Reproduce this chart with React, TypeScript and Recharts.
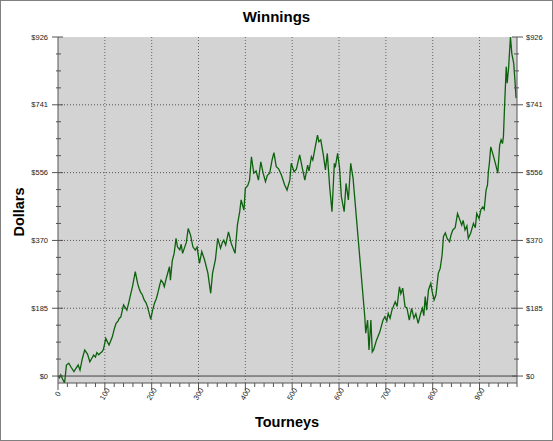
import { CartesianGrid, Line, LineChart, ReferenceLine, XAxis, YAxis } from 'recharts';

// points: tourney number -> cumulative winnings ($)
const tourneys = [
    0, 3, 6, 9, 14, 18, 23, 28, 34, 38, 43, 47, 52, 57, 63, 68, 72, 76, 80, 83, 87, 90, 94, 97, 102, 106, 109, 116, 120,
    124, 128, 131, 134, 140, 144, 147, 151, 154, 159, 165, 170, 173, 176, 180, 184, 188, 191, 195, 198, 202, 206, 210, 213,
    217, 220, 224, 227, 231, 234, 238, 240, 244, 248, 252, 255, 260, 263, 266, 270, 274, 278, 283, 288, 293, 297, 302, 307,
    313, 320, 326, 330, 336, 341, 347, 351, 354, 358, 364, 370, 378, 383, 388, 391, 397, 400, 405, 409, 413, 418, 423, 428,
    433, 438, 443, 447, 452, 457, 461, 466, 471, 477, 484, 489, 495, 498, 504, 509, 516, 521, 527, 533, 536, 541, 544, 548,
    554, 557, 561, 566, 571, 575, 580, 585, 590, 592, 597, 601, 605, 611, 615, 620, 625, 630, 655, 657, 661, 664, 668, 671,
    674, 680, 687, 694, 698, 702, 705, 709, 713, 720, 724, 729, 732, 736, 741, 745, 750, 755, 760, 764, 769, 774, 778, 781,
    784, 787, 791, 796, 799, 803, 807, 812, 816, 820, 823, 827, 831, 836, 839, 843, 848, 853, 857, 862, 865, 869, 873, 876,
    881, 887, 891, 894, 899, 903, 907, 910, 914, 917, 919, 921, 924, 929, 934, 939, 943, 946, 949, 951, 954, 957, 959, 962,
    966, 969, 973, 976, 978,
];
const winnings = [
    0, -5, 3, -6, -19, 30, 35, 24, 12, 20, 30, 16, 48, 71, 60, 39, 48, 57, 52, 64, 58, 62, 66, 73, 103, 92, 85, 107, 128,
    144, 150, 158, 161, 194, 186, 180, 200, 217, 244, 285, 253, 240, 230, 222, 208, 200, 189, 170, 155, 180, 199, 212, 226,
    248, 262, 255, 244, 266, 280, 299, 262, 315, 335, 376, 353, 345, 360, 335, 350, 365, 403, 385, 353, 344, 352, 308, 340,
    317, 281, 226, 281, 317, 376, 349, 365, 371, 358, 394, 362, 335, 412, 449, 481, 453, 513, 520, 535, 599, 554, 560, 535,
    585, 554, 531, 548, 554, 590, 610, 572, 566, 549, 522, 508, 535, 581, 558, 565, 604, 572, 535, 576, 560, 599, 590, 617,
    658, 640, 645, 608, 563, 608, 517, 449, 581, 570, 608, 570, 490, 449, 526, 481, 581, 540, 162, 117, 153, 71, 153, 66,
    72, 98, 120, 153, 162, 150, 171, 158, 180, 203, 190, 244, 225, 240, 189, 186, 153, 185, 158, 170, 144, 170, 185, 165,
    217, 180, 235, 253, 230, 208, 222, 281, 294, 330, 381, 391, 375, 367, 385, 399, 405, 444, 430, 412, 425, 399, 410, 376,
    390, 417, 405, 444, 430, 455, 462, 455, 508, 522, 560, 581, 626, 604, 580, 554, 631, 645, 635, 654, 754, 845, 800, 841,
    926, 880, 854, 800, 759,
];

const X_MAX = 980;
const Y_MIN = -19;
const Y_MAX = 926;
const yStep = Y_MAX / 20; // minor tick every 1/4 of a labelled step
const yTicks = Array.from({ length: 21 }, (_, i) => i * yStep);
const yGrid = [1, 2, 3, 4].map((i) => i * 4 * yStep);
const xTicks = Array.from({ length: X_MAX / 20 + 1 }, (_, i) => i * 20);
const xGrid = [100, 200, 300, 400, 500, 600, 700, 800, 900];

const data = tourneys.map((t, i) => ({ tourney: t, winnings: winnings[i] }));

const axisColor = '#555';
const tickFont = { fontFamily: 'Liberation Sans, Arial, sans-serif', fontSize: 7.5, fill: '#222' };
const titleFont = 'Liberation Sans, Arial, sans-serif';

const isMajorY = (v: number) => Math.round(v / yStep) % 4 === 0;
const money = (v: number) => `$${Math.round(v)}`;

function LeftTick({ x, y, payload }: any) {
    const major = isMajorY(payload.value);
    return (
        <g>
            <line x1={major ? x - 6 : x - 2} x2={major ? x + 5 : x + 3} y1={y} y2={y} stroke={axisColor} />
            {major && (
                <text x={x - 10} y={y} textAnchor="end" dominantBaseline="central" {...tickFont}>
                    {money(payload.value)}
                </text>
            )}
        </g>
    );
}

function RightTick({ x, y, payload }: any) {
    const major = isMajorY(payload.value);
    return (
        <g>
            <line x1={major ? x - 5 : x - 3} x2={major ? x + 6 : x + 2} y1={y} y2={y} stroke={axisColor} />
            {major && (
                <text x={x + 9} y={y} textAnchor="start" dominantBaseline="central" {...tickFont}>
                    {money(payload.value)}
                </text>
            )}
        </g>
    );
}

function BottomTick({ x, y, payload }: any) {
    const major = payload.value % 100 === 0;
    return (
        <g>
            <line x1={x} x2={x} y1={y} y2={y + (major ? 7 : 4)} stroke={axisColor} />
            {major && (
                <text
                    x={x}
                    y={y + 11}
                    textAnchor="middle"
                    dominantBaseline="central"
                    transform={`rotate(-60, ${x}, ${y + 11})`}
                    {...tickFont}
                >
                    {payload.value}
                </text>
            )}
        </g>
    );
}

function TopTick({ x, y, payload }: any) {
    const major = payload.value % 100 === 0;
    return <line x1={x} x2={x} y1={y} y2={y + (major ? 6 : 4)} stroke={axisColor} />;
}

export default function App() {
    return (
        <div style={{ position: 'absolute', top: 0, left: 0, width: 553, height: 441, background: '#fff' }}>
            <LineChart width={553} height={441} data={data} margin={{ top: 37, right: 0, bottom: 0, left: 0 }}>
                <CartesianGrid xAxisId="bottom" yAxisId="left" fill="#d3d3d3" stroke="none" horizontal={false} vertical={false} />
                <XAxis
                    xAxisId="bottom"
                    dataKey="tourney"
                    type="number"
                    domain={[0, X_MAX]}
                    ticks={xTicks}
                    interval={0}
                    height={58}
                    tickSize={0}
                    tickMargin={0}
                    tickLine={false}
                    stroke={axisColor}
                    tick={<BottomTick />}
                    allowDataOverflow
                />
                <XAxis
                    xAxisId="top"
                    orientation="top"
                    dataKey="tourney"
                    type="number"
                    domain={[0, X_MAX]}
                    ticks={xTicks}
                    interval={0}
                    height={0}
                    tickSize={0}
                    tickMargin={0}
                    tickLine={false}
                    stroke={axisColor}
                    tick={<TopTick />}
                    allowDataOverflow
                />
                <YAxis
                    yAxisId="left"
                    type="number"
                    domain={[Y_MIN, Y_MAX]}
                    ticks={yTicks}
                    interval={0}
                    width={58}
                    tickSize={0}
                    tickMargin={0}
                    tickLine={false}
                    stroke={axisColor}
                    tick={<LeftTick />}
                    allowDataOverflow
                />
                <YAxis
                    yAxisId="right"
                    orientation="right"
                    type="number"
                    domain={[Y_MIN, Y_MAX]}
                    ticks={yTicks}
                    interval={0}
                    width={36}
                    tickSize={0}
                    tickMargin={0}
                    tickLine={false}
                    stroke={axisColor}
                    tick={<RightTick />}
                    allowDataOverflow
                />
                {xGrid.map((v) => (
                    <ReferenceLine key={`x${v}`} xAxisId="bottom" yAxisId="left" x={v} stroke="#666" strokeDasharray="1 2" />
                ))}
                {yGrid.map((v) => (
                    <ReferenceLine key={`y${v}`} xAxisId="bottom" yAxisId="left" y={v} stroke="#555" strokeDasharray="1 2" />
                ))}
                <ReferenceLine xAxisId="bottom" yAxisId="left" y={0} stroke="#444" />
                <Line
                    xAxisId="top"
                    yAxisId="right"
                    dataKey="winnings"
                    stroke="none"
                    dot={false}
                    activeDot={false}
                    isAnimationActive={false}
                />
                <Line
                    xAxisId="bottom"
                    yAxisId="left"
                    type="linear"
                    dataKey="winnings"
                    stroke="#0d620d"
                    strokeWidth={1.3}
                    dot={false}
                    activeDot={false}
                    isAnimationActive={false}
                />
            </LineChart>
            <svg width={553} height={441} style={{ position: 'absolute', top: 0, left: 0, pointerEvents: 'none' }}>
                <rect x={0.5} y={0.5} width={552} height={440} fill="none" stroke="#808080" />
                <text x={276.5} y={22} textAnchor="middle" fontFamily={titleFont} fontWeight="bold" fontSize={15} fill="#000">
                    Winnings
                </text>
                <text
                    x={24}
                    y={212}
                    textAnchor="middle"
                    transform="rotate(-90, 24, 212)"
                    fontFamily={titleFont}
                    fontWeight="bold"
                    fontSize={14.5}
                    fill="#000"
                >
                    Dollars
                </text>
                <text x={287} y={427} textAnchor="middle" fontFamily={titleFont} fontWeight="bold" fontSize={14.5} fill="#000">
                    Tourneys
                </text>
            </svg>
        </div>
    );
}
